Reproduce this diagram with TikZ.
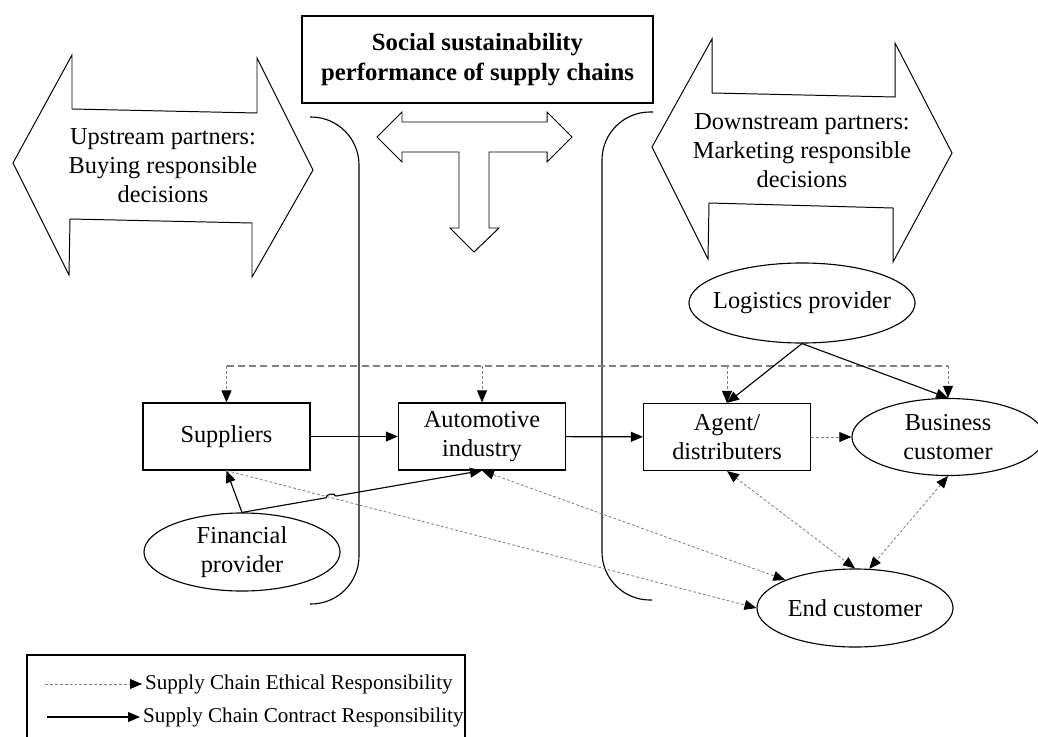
\documentclass[tikz,border=0pt]{standalone}
\usepackage{fontspec}
\setmainfont{Liberation Serif}
\usetikzlibrary{shapes.geometric,arrows.meta,calc}

\tikzset{
  box/.style={draw, line width=0.8pt, minimum width=4.175cm, minimum height=1.675cm, align=center, inner sep=0pt},
  oval/.style={draw, ellipse, line width=0.8pt, inner sep=0pt},
  contract/.style={line width=0.8pt, -{Triangle[length=8.5pt,width=7pt]}},
  ethic/.style={gray, line width=0.6pt, dash pattern=on 2pt off 1.5pt, -{Triangle[length=8.5pt,width=7pt,color=black]}},
  ethicboth/.style={ethic, {Triangle[length=8.5pt,width=7pt,color=black]}-{Triangle[length=8.5pt,width=7pt,color=black]}},
  bigarrow/.style={draw, line width=0.7pt, line join=miter},
}

\begin{document}
\begin{tikzpicture}[x=0.025cm, y=-0.025cm, font=\fontsize{17.3}{21}\selectfont]
    \useasboundingbox (0,0) rectangle (1038,736);

    % partner arrows and the T arrow
    \draw [bigarrow] (13,163) -- (72,55) -- (72,109) -- (257,113) -- (257,58) -- (313,170)
        -- (252,277) -- (252,223) -- (70,219) -- (69,275) -- cycle;
    \draw [bigarrow] (652,147) -- (712,39) -- (712,93) -- (895,97) -- (895,43) -- (952,153)
        -- (893,262) -- (893,208) -- (709,203) -- (708,259) -- cycle;
    \draw [bigarrow] (377,137) -- (402,112) -- (402,122) -- (547,122) -- (547,112) -- (572,137)
        -- (547,162) -- (547,152) -- (489,152) -- (489,228) -- (499,228) -- (474,252)
        -- (450,228) -- (459,228) -- (459,152) -- (402,152) -- (402,162) -- cycle;

    \node [align=center, font=\fontsize{17.3}{20.6}\selectfont] (up) at (163,166)
        {Upstream partners:\\Buying responsible\\decisions};
    \node [align=center, font=\fontsize{17.3}{20.6}\selectfont] (down) at (802,151)
        {Downstream partners:\\Marketing responsible\\decisions};

    \node [draw, line width=0.8pt, minimum width=8.775cm, minimum height=2.175cm, align=center,
        font=\bfseries\fontsize{17.6}{21.3}\selectfont] (perf) at (477.5,59.5)
        {Social sustainability\\performance of supply chains};

    % brackets
    \draw [line width=0.8pt, rounded corners=1.2cm] (310,117) -- (359,117) -- (359,604) -- (310,604);
    \draw [line width=0.8pt, rounded corners=1.2cm] (653,112) -- (602,112) -- (602,600) -- (652,600);

    % chain members
    \node [box] (sup) at (226.5,436.5) {Suppliers};
    \node [box] (auto) at (482,436.5) {Automotive\\industry};
    \node [box] (agent) at (727,437) {Agent/\\distributers};

    \node [oval, minimum width=5.65cm, minimum height=2cm, label=center:{Logistics provider}] (log) at (802,303) {};
    \node [oval, minimum width=4.8cm, minimum height=1.925cm,
        label={[align=center]center:Business\\customer}] (bus) at (948,437) {};
    \node [oval, minimum width=4.9cm, minimum height=1.95cm,
        label={[align=center]center:Financial\\provider}] (fin) at (242,552) {};
    \node [oval, minimum width=4.9cm, minimum height=1.95cm, label=center:{End customer}] (end) at (855,608) {};

    % ethical bar
    \coordinate (bar) at (0,366);
    \draw [gray, line width=0.8pt, dash pattern=on 5pt off 3pt] (sup.north |- bar) -- (bus.north |- bar);
    \foreach \n in {sup,auto,agent,bus}
        \draw [ethic] (\n.north |- bar) -- (\n.north);

    \draw [contract] (sup) -- (auto);
    \draw [contract] (auto) -- (agent);
    \draw [ethic] (agent) -- (bus);
    \draw [contract] (log.south) -- (agent.north);
    \draw [contract] (log.south) -- (bus.north);
    \draw [contract] (fin.north) -- (sup.south);

    \draw [ethic] (sup.south) -- (end.west);
    \draw [ethicboth] (auto.south) -- (end.north west);
    \draw [ethicboth] (agent.south) -- (end.north);
    \draw [ethicboth] (bus.south) -- (end.70);

    % financial -> automotive, with a hop
    \draw [line width=0.8pt] (fin.north) -- ($(fin.north)!0.35!(auto.south)$) coordinate (h1)
        to [bend left=90] ($(fin.north)!0.39!(auto.south)$) coordinate (h2);
    \draw [contract] (h2) -- (auto.south);

    % legend
    \draw [line width=0.8pt] (27,655) rectangle (465,760);
    \node [anchor=west, font=\fontsize{15}{17}\selectfont, inner sep=2pt] (lg1) at (142,684)
        {Supply Chain Ethical Responsibility};
    \node [anchor=west, font=\fontsize{15}{17}\selectfont, inner sep=2pt] (lg2) at (140,717)
        {Supply Chain Contract Responsibility};
    \coordinate (lg1s) at (45,684);
    \coordinate (lg2s) at (47,717);
    \draw [ethic] (lg1s) -- (lg1.west);
    \draw [contract] (lg2s) -- (lg2.west);
\end{tikzpicture}
\end{document}
